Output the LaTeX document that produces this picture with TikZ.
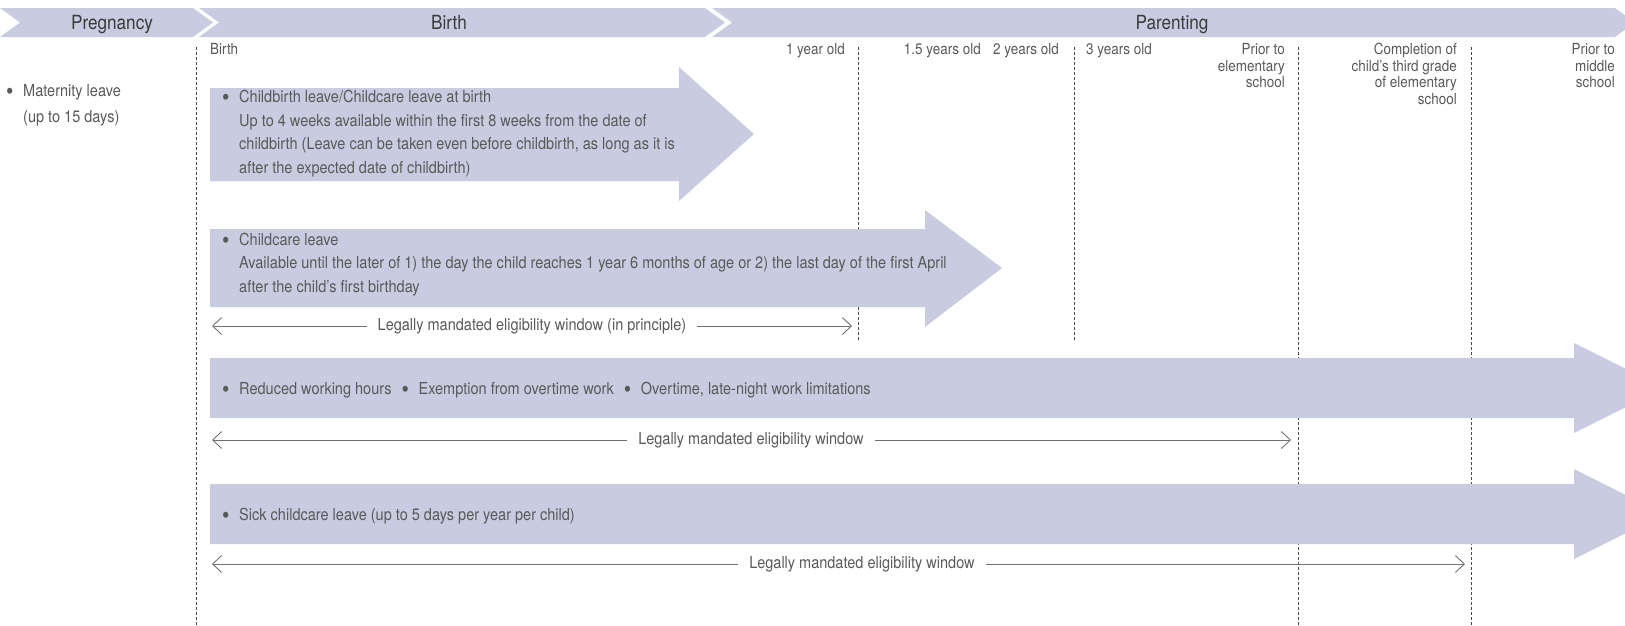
\documentclass[tikz,border=0pt]{standalone}
\usepackage{fontspec}
\setmainfont[FakeStretch=0.88]{TeX Gyre Heros}
\usetikzlibrary{arrows.meta}
\definecolor{band}{HTML}{C9CCE0}
\definecolor{txt}{HTML}{595959}
\definecolor{hdr}{HTML}{3A3A3A}
\definecolor{rule}{HTML}{4A4A4A}
\definecolor{wline}{HTML}{707070}
\newcommand{\mybul}{\makebox[17pt][l]{\raisebox{-3pt}{\scalebox{1.45}{\textbullet}}}}
\begin{document}
\begin{tikzpicture}[x=1pt,y=-1pt,
  body/.style={font=\fontsize{16.5}{23.5}\selectfont, text=txt, inner sep=0pt},
  small/.style={font=\fontsize{15.3}{16.5}\selectfont, text=txt, inner sep=0pt},
  head/.style={font=\fontsize{19.5}{20}\selectfont, text=hdr, inner sep=0pt},
  winlabel/.style={body, inner xsep=11pt, inner ysep=0pt},
  vline/.style={draw=rule, line width=1pt, dash pattern=on 2.5pt off 2.5pt},
  win/.style={draw=wline, line width=0.9pt},
  bigarrow/.style={fill=band},
]
\useasboundingbox (0,0) rectangle (1625,625);
\clip (0,0) rectangle (1625,625);

% vertical dotted rules
\coordinate (v0t) at (196,47);  \coordinate (v0b) at (196,625);
\coordinate (v1t) at (858,47);  \coordinate (v1b) at (858,342);
\coordinate (v2t) at (1074,47); \coordinate (v2b) at (1074,342);
\coordinate (v3t) at (1298,47); \coordinate (v3b) at (1298,625);
\coordinate (v4t) at (1471,47); \coordinate (v4b) at (1471,625);
\draw[vline] (v0t) -- (v0b);
\draw[vline] (v1t) -- (v1b);
\draw[vline] (v2t) -- (v2b);
\draw[vline] (v3t) -- (v3b);
\draw[vline] (v4t) -- (v4b);

% header chevrons
\fill[band] (0,8) -- (193,8) -- (213,22.5) -- (193,37) -- (0,37) -- (20,22.5) -- cycle;
\fill[band] (199,8) -- (705,8) -- (725,22.5) -- (705,37) -- (199,37) -- (219,22.5) -- cycle;
\fill[band] (712,8) -- (1615,8) -- (1635,22.5) -- (1615,37) -- (712,37) -- (732,22.5) -- cycle;
\node[head, anchor=base] (hpreg) at (112,29.5) {Pregnancy};
\node[head, anchor=base] (hbirth) at (449,29.5) {Birth};
\node[head, anchor=base] (hpar) at (1172,29.5) {Parenting};

% milestone labels (base anchor = last line)
\node[small, anchor=base west] (mbirth) at (210,54.5) {Birth};
\node[small, anchor=base east] (m1) at (845,54.5) {1 year old};
\node[small, anchor=base east] (m15) at (981,54.5) {1.5 years old};
\node[small, anchor=base east] (m2) at (1059,54.5) {2 years old};
\node[small, anchor=base west] (m3) at (1086,54.5) {3 years old};
\node[small, anchor=base east, align=right] (mel) at (1285,87.5) {Prior to\\elementary\\school};
\node[small, anchor=base east, align=right] (mthird) at (1457,104) {Completion of\\child's third grade\\of elementary\\school};
\node[small, anchor=base east, align=right] (mmid) at (1615,87.5) {Prior to\\middle\\school};

% maternity leave
\node[body, anchor=base west, align=left, font=\fontsize{16.5}{26}\selectfont] (mat) at (6,122) {\mybul Maternity leave\\\hspace*{17pt}(up to 15 days)};

% arrow 1: childbirth leave
\fill[bigarrow] (210,88) -- (679,88) -- (679,67) -- (754,134) -- (679,201) -- (679,181) -- (210,181) -- cycle;
\node[body, anchor=base west, align=left] (cb) at (222,173) {\mybul Childbirth leave/Childcare leave at birth\\\hspace*{17pt}Up to 4 weeks available within the first 8 weeks from the date of\\\hspace*{17pt}childbirth (Leave can be taken even before childbirth, as long as it is\\\hspace*{17pt}after the expected date of childbirth)};

% arrow 2: childcare leave
\fill[bigarrow] (210,229) -- (925,229) -- (925,210) -- (1002,268) -- (925,327) -- (925,307) -- (210,307) -- cycle;
\node[body, anchor=base west, align=left] (cl) at (222,292) {\mybul Childcare leave\\\hspace*{17pt}Available until the later of 1) the day the child reaches 1 year 6 months of age or 2) the last day of the first April\\\hspace*{17pt}after the child's first birthday};

% window 1
\coordinate (w1l) at (212,326); \coordinate (w1r) at (852,326);
\node[winlabel] (w1t) at (532,326) {Legally mandated eligibility window (in principle)};
\draw[win, {Straight Barb[length=9pt,width=17pt]}-] (w1l) -- (w1t.west);
\draw[win, -{Straight Barb[length=9pt,width=17pt]}] (w1t.east) -- (w1r);

% arrow 3: reduced hours
\fill[bigarrow] (210,358) -- (1574,358) -- (1574,343) -- (1664,388) -- (1574,433) -- (1574,418) -- (210,418) -- cycle;
\node[body, anchor=base west] (rh) at (222,394) {\mybul Reduced working hours\hspace{10pt}\mybul Exemption from overtime work\hspace{10pt}\mybul Overtime, late-night work limitations};

% window 2
\coordinate (w2l) at (212,440); \coordinate (w2r) at (1291,440);
\node[winlabel] (w2t) at (751,440) {Legally mandated eligibility window};
\draw[win, {Straight Barb[length=9pt,width=17pt]}-] (w2l) -- (w2t.west);
\draw[win, -{Straight Barb[length=9pt,width=17pt]}] (w2t.east) -- (w2r);

% arrow 4: sick childcare leave
\fill[bigarrow] (210,484) -- (1574,484) -- (1574,469) -- (1664,514) -- (1574,559) -- (1574,544) -- (210,544) -- cycle;
\node[body, anchor=base west] (sc) at (222,520) {\mybul Sick childcare leave (up to 5 days per year per child)};

% window 3
\coordinate (w3l) at (212,564); \coordinate (w3r) at (1465,564);
\node[winlabel] (w3t) at (862,564) {Legally mandated eligibility window};
\draw[win, {Straight Barb[length=9pt,width=17pt]}-] (w3l) -- (w3t.west);
\draw[win, -{Straight Barb[length=9pt,width=17pt]}] (w3t.east) -- (w3r);
\end{tikzpicture}
\end{document}
